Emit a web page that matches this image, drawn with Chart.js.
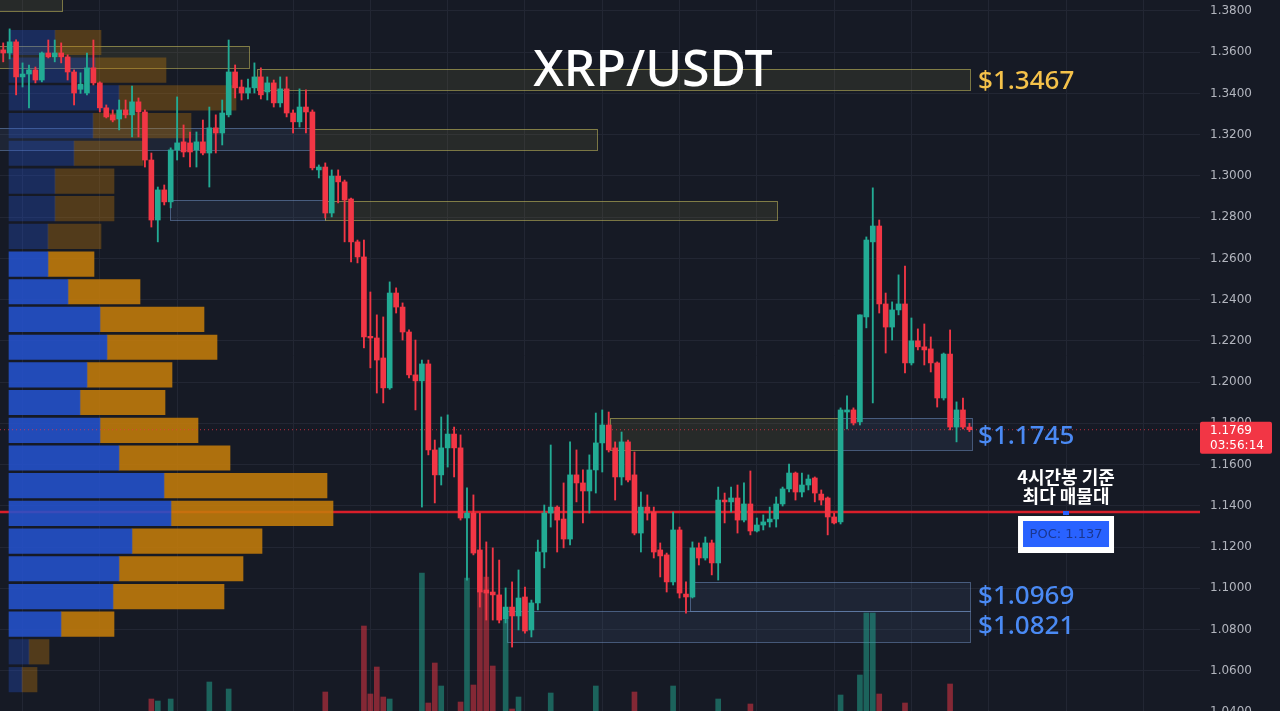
<!DOCTYPE html>
<html>
<head>
<meta charset="utf-8">
<title>XRP/USDT</title>
<script src="https://cdn.jsdelivr.net/npm/chart.js@4.4.1/dist/chart.umd.min.js"></script>
<style>
    html, body { margin: 0; padding: 0; background: #161a25; overflow: hidden; }
    #chart { display: block; }
</style>
</head>
<body>
<canvas id="chart" width="1280" height="711"></canvas>
<script>
// 4h candles, [open, high, low, close]
const ohlc = [
    [1.3611, 1.3645, 1.3553, 1.3596], [1.3596, 1.3713, 1.3567, 1.3650], [1.3650, 1.3660, 1.3393, 1.3480],
    [1.3480, 1.3548, 1.3431, 1.3494], [1.3494, 1.3538, 1.3330, 1.3514], [1.3514, 1.3528, 1.3451, 1.3465],
    [1.3465, 1.3601, 1.3456, 1.3596], [1.3596, 1.3659, 1.3572, 1.3577], [1.3577, 1.3659, 1.3553, 1.3596],
    [1.3596, 1.3645, 1.3548, 1.3577], [1.3577, 1.3587, 1.3465, 1.3504], [1.3504, 1.3514, 1.3344, 1.3402],
    [1.3420, 1.3500, 1.3400, 1.3445], [1.3402, 1.3596, 1.3393, 1.3524], [1.3524, 1.3659, 1.3441, 1.3451],
    [1.3451, 1.3456, 1.3310, 1.3330], [1.3330, 1.3344, 1.3281, 1.3286], [1.3296, 1.3320, 1.3262, 1.3271],
    [1.3276, 1.3368, 1.3223, 1.3320], [1.3320, 1.3368, 1.3281, 1.3296], [1.3296, 1.3436, 1.3189, 1.3359],
    [1.3359, 1.3378, 1.3189, 1.3310], [1.3310, 1.3320, 1.3043, 1.3077], [1.3077, 1.3111, 1.2752, 1.2786],
    [1.2786, 1.2946, 1.2680, 1.2932], [1.2932, 1.2956, 1.2859, 1.2874], [1.2874, 1.3136, 1.2845, 1.3126],
    [1.3126, 1.3383, 1.3077, 1.3160], [1.3165, 1.3247, 1.3092, 1.3116], [1.3160, 1.3213, 1.3043, 1.3116],
    [1.3126, 1.3213, 1.3043, 1.3165], [1.3165, 1.3271, 1.3102, 1.3111], [1.3111, 1.3334, 1.2946, 1.3233],
    [1.3233, 1.3296, 1.3111, 1.3208], [1.3208, 1.3368, 1.3150, 1.3305], [1.3296, 1.3659, 1.3286, 1.3504],
    [1.3504, 1.3538, 1.3378, 1.3427], [1.3431, 1.3465, 1.3368, 1.3402], [1.3402, 1.3470, 1.3373, 1.3427],
    [1.3427, 1.3548, 1.3402, 1.3480], [1.3480, 1.3524, 1.3373, 1.3393], [1.3407, 1.3480, 1.3368, 1.3451],
    [1.3451, 1.3465, 1.3334, 1.3354], [1.3354, 1.3480, 1.3334, 1.3422], [1.3422, 1.3480, 1.3286, 1.3305],
    [1.3305, 1.3320, 1.3208, 1.3262], [1.3262, 1.3422, 1.3237, 1.3334], [1.3334, 1.3417, 1.3208, 1.3310],
    [1.3310, 1.3320, 1.3029, 1.3039], [1.3029, 1.3053, 1.2990, 1.3043], [1.3043, 1.3063, 1.2796, 1.2820],
    [1.2820, 1.3029, 1.2801, 1.2999], [1.2999, 1.3029, 1.2869, 1.2971], [1.2971, 1.2980, 1.2680, 1.2883],
    [1.2888, 1.2893, 1.2583, 1.2680], [1.2680, 1.2689, 1.2578, 1.2607], [1.2607, 1.2689, 1.2166, 1.2219],
    [1.2222, 1.2437, 1.2069, 1.2214], [1.2214, 1.2326, 1.1947, 1.2107], [1.2117, 1.2316, 1.1899, 1.1972],
    [1.1972, 1.2486, 1.1965, 1.2432], [1.2432, 1.2457, 1.2335, 1.2364], [1.2364, 1.2384, 1.2204, 1.2243],
    [1.2243, 1.2253, 1.2020, 1.2035], [1.2035, 1.2204, 1.1865, 1.2006], [1.2006, 1.2107, 1.1394, 1.2088],
    [1.2088, 1.2107, 1.1647, 1.1671], [1.1671, 1.1719, 1.1414, 1.1550], [1.1550, 1.1831, 1.1501, 1.1681],
    [1.1681, 1.1841, 1.1588, 1.1748], [1.1748, 1.1782, 1.1540, 1.1681], [1.1681, 1.1744, 1.1331, 1.1341],
    [1.1341, 1.1487, 1.1040, 1.1365], [1.1365, 1.1453, 1.1162, 1.1171], [1.1186, 1.1365, 1.0909, 1.0982],
    [1.0992, 1.1225, 1.0846, 1.0977], [1.0982, 1.1196, 1.0846, 1.0968], [1.0968, 1.1137, 1.0832, 1.0846],
    [1.0851, 1.1002, 1.0832, 1.0909], [1.0909, 1.1031, 1.0715, 1.0866], [1.0866, 1.1089, 1.0798, 1.0953],
    [1.0958, 1.1006, 1.0783, 1.0793], [1.0798, 1.0943, 1.0764, 1.0929], [1.0929, 1.1234, 1.0895, 1.1176],
    [1.1176, 1.1404, 1.1099, 1.1365], [1.1365, 1.1695, 1.1297, 1.1394], [1.1394, 1.1400, 1.1176, 1.1331],
    [1.1336, 1.1511, 1.1196, 1.1239], [1.1239, 1.1710, 1.1210, 1.1550], [1.1550, 1.1671, 1.1419, 1.1511],
    [1.1511, 1.1574, 1.1317, 1.1472], [1.1472, 1.1647, 1.1365, 1.1574], [1.1574, 1.1850, 1.1462, 1.1705],
    [1.1705, 1.1865, 1.1564, 1.1792], [1.1792, 1.1855, 1.1661, 1.1671], [1.1681, 1.1710, 1.1428, 1.1540],
    [1.1540, 1.1758, 1.1501, 1.1710], [1.1710, 1.1719, 1.1516, 1.1525], [1.1550, 1.1661, 1.1259, 1.1268],
    [1.1268, 1.1467, 1.1176, 1.1394], [1.1394, 1.1453, 1.1331, 1.1365], [1.1370, 1.1394, 1.1147, 1.1176],
    [1.1186, 1.1220, 1.1055, 1.1157], [1.1162, 1.1171, 1.0982, 1.1031], [1.1031, 1.1370, 1.1016, 1.1283],
    [1.1283, 1.1297, 1.0953, 1.0977], [1.0972, 1.1031, 1.0880, 1.0958], [1.0958, 1.1225, 1.0953, 1.1196],
    [1.1196, 1.1220, 1.1113, 1.1147], [1.1147, 1.1249, 1.1137, 1.1220], [1.1220, 1.1234, 1.1065, 1.1123],
    [1.1123, 1.1491, 1.1040, 1.1428], [1.1428, 1.1462, 1.1317, 1.1419], [1.1419, 1.1491, 1.1370, 1.1438],
    [1.1438, 1.1501, 1.1268, 1.1331], [1.1331, 1.1511, 1.1322, 1.1409], [1.1409, 1.1569, 1.1259, 1.1278],
    [1.1278, 1.1341, 1.1273, 1.1307], [1.1307, 1.1356, 1.1283, 1.1322], [1.1322, 1.1394, 1.1297, 1.1336],
    [1.1336, 1.1443, 1.1297, 1.1409], [1.1409, 1.1491, 1.1399, 1.1482], [1.1482, 1.1603, 1.1467, 1.1559],
    [1.1559, 1.1564, 1.1428, 1.1467], [1.1467, 1.1559, 1.1443, 1.1501], [1.1501, 1.1550, 1.1477, 1.1530],
    [1.1535, 1.1540, 1.1419, 1.1462], [1.1457, 1.1477, 1.1404, 1.1428], [1.1438, 1.1443, 1.1259, 1.1346],
    [1.1346, 1.1365, 1.1312, 1.1317], [1.1322, 1.1875, 1.1312, 1.1865], [1.1855, 1.1933, 1.1773, 1.1865],
    [1.1865, 1.1875, 1.1792, 1.1802], [1.1807, 1.2326, 1.1792, 1.2326], [1.2316, 1.2704, 1.2263, 1.2689],
    [1.2680, 1.2942, 1.1899, 1.2757], [1.2757, 1.2786, 1.2335, 1.2379], [1.2379, 1.2432, 1.2141, 1.2267],
    [1.2267, 1.2389, 1.2204, 1.2350], [1.2350, 1.2520, 1.2326, 1.2379], [1.2379, 1.2563, 1.2044, 1.2093],
    [1.2093, 1.2311, 1.2083, 1.2200], [1.2200, 1.2258, 1.2156, 1.2171], [1.2171, 1.2282, 1.2083, 1.2156],
    [1.2161, 1.2219, 1.2049, 1.2093], [1.2093, 1.2098, 1.1879, 1.1923], [1.1923, 1.2141, 1.1913, 1.2136],
    [1.2136, 1.2253, 1.1768, 1.1782], [1.1782, 1.1904, 1.1710, 1.1865], [1.1865, 1.1923, 1.1773, 1.1782],
    [1.1782, 1.1800, 1.1760, 1.1769]
];

// volume bars that rise into view: [candle index, volume]
const volumeBars = [
    [23, 12], [24, 10], [26, 12], [32, 29], [35, 22], [50, 19], [56, 85], [57, 17], [58, 44], [59, 14],
    [60, 12], [65, 138], [66, 8], [67, 48], [68, 25], [71, 9], [72, 133], [73, 26], [74, 120], [75, 134],
    [76, 45], [78, 91], [79, 2], [80, 14], [85, 18], [92, 25], [98, 19], [104, 25], [111, 12], [116, 7],
    [130, 16], [133, 36], [134, 98], [135, 98], [136, 17], [140, 8], [147, 27]
];

// volume profile rows (price level, up volume, down volume)
const profilePrice = [1.3647, 1.3513, 1.3378, 1.3244, 1.3110, 1.2975, 1.2841, 1.2707, 1.2572, 1.2438, 1.2304, 1.2169,
    1.2035, 1.1901, 1.1766, 1.1632, 1.1498, 1.1363, 1.1229, 1.1095, 1.0960, 1.0826, 1.0692, 1.0557];
const profileUp = [46, 86, 110, 84, 65, 46, 46, 39, 39, 59, 91, 98, 78, 71, 91, 110, 155, 162, 123, 110, 104, 52, 20, 13];
const profileDown = [46, 71, 117, 98, 69, 59, 59, 53, 46, 72, 104, 110, 85, 85, 98, 111, 163, 162, 130, 124, 111, 53, 20, 15];

// supply / demand zones: [from candle, to candle, top price, bottom price, kind]
const zones = [
    [-0.6, 9.1, 1.3900, 1.3800, 'supply'],
    [-0.6, 38.2, 1.3630, 1.3524, 'supply'],
    [39.4, 150.1, 1.3519, 1.3417, 'supply'],
    [-0.6, 48.1, 1.3233, 1.3126, 'demand'],
    [48.1, 92.2, 1.3228, 1.3126, 'supply'],
    [25.9, 50.0, 1.2883, 1.2786, 'demand'],
    [50.0, 120.1, 1.2878, 1.2786, 'supply'],
    [94.2, 129.6, 1.1826, 1.1671, 'supply'],
    [129.6, 150.4, 1.1826, 1.1671, 'demand'],
    [106.6, 150.1, 1.1031, 1.0890, 'demand'],
    [78.2, 150.1, 1.0890, 1.0740, 'demand']
];
const zoneLabels = [1.3467, 1.1745, 1.0969, 1.0821];
const zoneLabelKind = ['supply', 'demand', 'demand', 'demand'];

const priceTicks = [1.04, 1.06, 1.08, 1.10, 1.12, 1.14, 1.16, 1.18, 1.20, 1.22, 1.24, 1.26, 1.28, 1.30, 1.32, 1.34, 1.36, 1.38];
const timeGrid = [3, 15, 27, 45, 57, 69, 81, 93, 105, 117, 129, 141, 153, 165, 177];
const pocPrice = 1.137;
const countdown = '03:56:14';

// view window
const xMin = -0.5, xMax = 185.8;
const yMin = 1.0405, yMax = 1.3853;

const colors = {
    up: '#22ab94',
    down: '#f23645',
    upVol: 'rgba(34, 171, 148, 0.5)',
    downVol: 'rgba(242, 54, 69, 0.5)',
    grid: '#222633',
    axisText: '#b2b5be',
    profUp: 'rgba(36, 82, 205, 0.88)',
    profDown: 'rgba(196, 124, 10, 0.88)',
    profUpDim: 'rgba(36, 82, 205, 0.33)',
    profDownDim: 'rgba(196, 124, 10, 0.35)',
    supplyFill: 'rgba(150, 140, 70, 0.14)',
    supplyLine: 'rgba(190, 180, 90, 0.6)',
    demandFill: 'rgba(90, 120, 170, 0.12)',
    demandLine: 'rgba(110, 140, 190, 0.55)',
    supplyText: '#f5c24a',
    demandText: '#4a8af4',
    poc: '#d91e2a'
};

const last = ohlc[ohlc.length - 1];
const isUp = c => c[3] >= c[0];
const inValueArea = k => k >= 8 && k <= 21;

const overlay = {
    id: 'overlay',
    beforeDatasetsDraw(chart) {
        const {ctx, chartArea, scales: {x, y}} = chart;
        ctx.save();
        ctx.beginPath();
        ctx.rect(chartArea.left, chartArea.top, chartArea.width, chartArea.height);
        ctx.clip();
        zones.forEach(z => {
            const x0 = Math.round(x.getPixelForValue(z[0]));
            const x1 = Math.round(x.getPixelForValue(z[1]));
            const y0 = Math.round(y.getPixelForValue(z[2]));
            const y1 = Math.round(y.getPixelForValue(z[3]));
            ctx.fillStyle = z[4] === 'supply' ? colors.supplyFill : colors.demandFill;
            ctx.fillRect(x0, y0, x1 - x0, y1 - y0);
            ctx.strokeStyle = z[4] === 'supply' ? colors.supplyLine : colors.demandLine;
            ctx.lineWidth = 1;
            ctx.strokeRect(x0 + 0.5, y0 + 0.5, x1 - x0, y1 - y0);
        });
        ctx.restore();
    },
    afterDraw(chart) {
        const {ctx, scales: {x, y}} = chart;
        ctx.save();

        // zone price labels
        ctx.font = '500 26px "Noto Sans"';
        ctx.textAlign = 'left';
        ctx.textBaseline = 'alphabetic';
        zoneLabels.forEach((p, i) => {
            ctx.fillStyle = zoneLabelKind[i] === 'supply' ? colors.supplyText : colors.demandText;
            ctx.fillText('$' + p.toFixed(4), x.getPixelForValue(150.1) + 8, y.getPixelForValue(p) + 9);
        });

        // title
        ctx.fillStyle = '#ffffff';
        ctx.font = '500 50px "Noto Sans"';
        ctx.textAlign = 'center';
        ctx.fillText('XRP/USDT', 653, 86);

        // POC note
        const cx = x.getPixelForValue(165);
        const py = y.getPixelForValue(pocPrice);
        ctx.font = '700 18px "Noto Sans CJK KR"';
        ctx.textBaseline = 'middle';
        ctx.fillText('4시간봉 기준', cx, py - 35);
        ctx.fillText('최다 매물대', cx, py - 16);

        ctx.fillStyle = '#2962ff';
        ctx.fillRect(cx - 3, py - 1, 6, 4);
        ctx.fillStyle = '#ffffff';
        ctx.fillRect(cx - 48, py + 4, 96, 37);
        ctx.fillStyle = '#2962ff';
        ctx.fillRect(cx - 43, py + 9, 86, 26);
        ctx.fillStyle = '#1a3690';
        ctx.font = '13px "DejaVu Sans"';
        ctx.fillText('POC: ' + pocPrice.toFixed(3), cx, py + 23);

        // last price tag
        const ly = y.getPixelForValue(last[3]);
        const tagX = chart.chartArea.right;
        ctx.fillStyle = colors.down;
        ctx.beginPath();
        ctx.roundRect(tagX, ly - 8, 72, 32, 2);
        ctx.fill();
        ctx.fillStyle = '#ffffff';
        ctx.font = '12px "DejaVu Sans"';
        ctx.textAlign = 'left';
        ctx.fillText(last[3].toFixed(4), tagX + 10, ly + 1);
        ctx.fillText(countdown, tagX + 10, ly + 16);

        ctx.restore();
    }
};

new Chart(document.getElementById('chart'), {
    type: 'bar',
    data: {
        datasets: [
            {
                label: 'bodies',
                data: ohlc.map((c, i) => ({ x: i, y: [c[0], c[3]] })),
                backgroundColor: ohlc.map(c => isUp(c) ? colors.up : colors.down),
                barThickness: 5,
                minBarLength: 1.5,
                grouped: false,
                order: 1
            },
            {
                label: 'wicks',
                data: ohlc.map((c, i) => ({ x: i, y: [c[2], c[1]] })),
                backgroundColor: ohlc.map(c => isUp(c) ? colors.up : colors.down),
                barThickness: 1.2,
                grouped: false,
                order: 2
            },
            {
                type: 'line',
                label: 'last price',
                data: [{ x: xMin, y: last[3] }, { x: xMax, y: last[3] }],
                borderColor: 'rgba(242, 54, 69, 0.75)',
                borderWidth: 1,
                borderDash: [1, 3],
                pointRadius: 0,
                order: 3
            },
            {
                label: 'volume',
                yAxisID: 'yv',
                data: volumeBars.map(v => ({ x: v[0], y: v[1] })),
                backgroundColor: volumeBars.map(v => isUp(ohlc[v[0]]) ? colors.upVol : colors.downVol),
                barThickness: 5,
                grouped: false,
                order: 4
            },
            {
                label: 'profile up',
                indexAxis: 'y',
                xAxisID: 'xp',
                yAxisID: 'yp',
                stack: 'vp',
                data: profilePrice.map((p, k) => ({ x: profileUp[k], y: p })),
                backgroundColor: profilePrice.map((p, k) => inValueArea(k) ? colors.profUp : colors.profUpDim),
                barThickness: 24.5,
                grouped: false,
                order: 5
            },
            {
                label: 'profile down',
                indexAxis: 'y',
                xAxisID: 'xp',
                yAxisID: 'yp',
                stack: 'vp',
                data: profilePrice.map((p, k) => ({ x: profileDown[k], y: p })),
                backgroundColor: profilePrice.map((p, k) => inValueArea(k) ? colors.profDown : colors.profDownDim),
                barThickness: 24.5,
                grouped: false,
                order: 5
            },
            {
                type: 'line',
                label: 'POC',
                data: [{ x: xMin, y: pocPrice }, { x: xMax, y: pocPrice }],
                borderColor: colors.poc,
                borderWidth: 2.5,
                pointRadius: 0,
                order: 6
            }
        ]
    },
    options: {
        responsive: false,
        animation: false,
        devicePixelRatio: 1,
        layout: { padding: 0 },
        plugins: {
            legend: { display: false },
            tooltip: { enabled: false }
        },
        scales: {
            x: {
                type: 'linear',
                min: xMin,
                max: xMax,
                offset: false,
                grid: { color: colors.grid, offset: false, drawTicks: false },
                border: { display: false },
                ticks: { display: false },
                afterBuildTicks: function(scale) {
                    scale.ticks = timeGrid.map(v => ({ value: v }));
                }
            },
            y: {
                type: 'linear',
                position: 'right',
                min: yMin,
                max: yMax,
                grid: { color: colors.grid, drawTicks: false },
                border: { display: false },
                ticks: {
                    color: colors.axisText,
                    padding: 10,
                    font: { family: 'DejaVu Sans', size: 12 },
                    callback: function(value) {
                        return value.toFixed(4);
                    }
                },
                afterBuildTicks: function(scale) {
                    scale.ticks = priceTicks.map(v => ({ value: v }));
                },
                afterFit: function(scale) {
                    scale.width = 80;
                    scale.paddingTop = 0;
                    scale.paddingBottom = 0;
                }
            },
            yv: { type: 'linear', display: false, min: 0, max: 711 },
            xp: { type: 'linear', axis: 'x', display: false, offset: false, min: -9, max: 1191 },
            yp: { type: 'linear', axis: 'y', display: false, offset: false, min: yMin, max: yMax }
        }
    },
    plugins: [overlay]
});
</script>
</body>
</html>
